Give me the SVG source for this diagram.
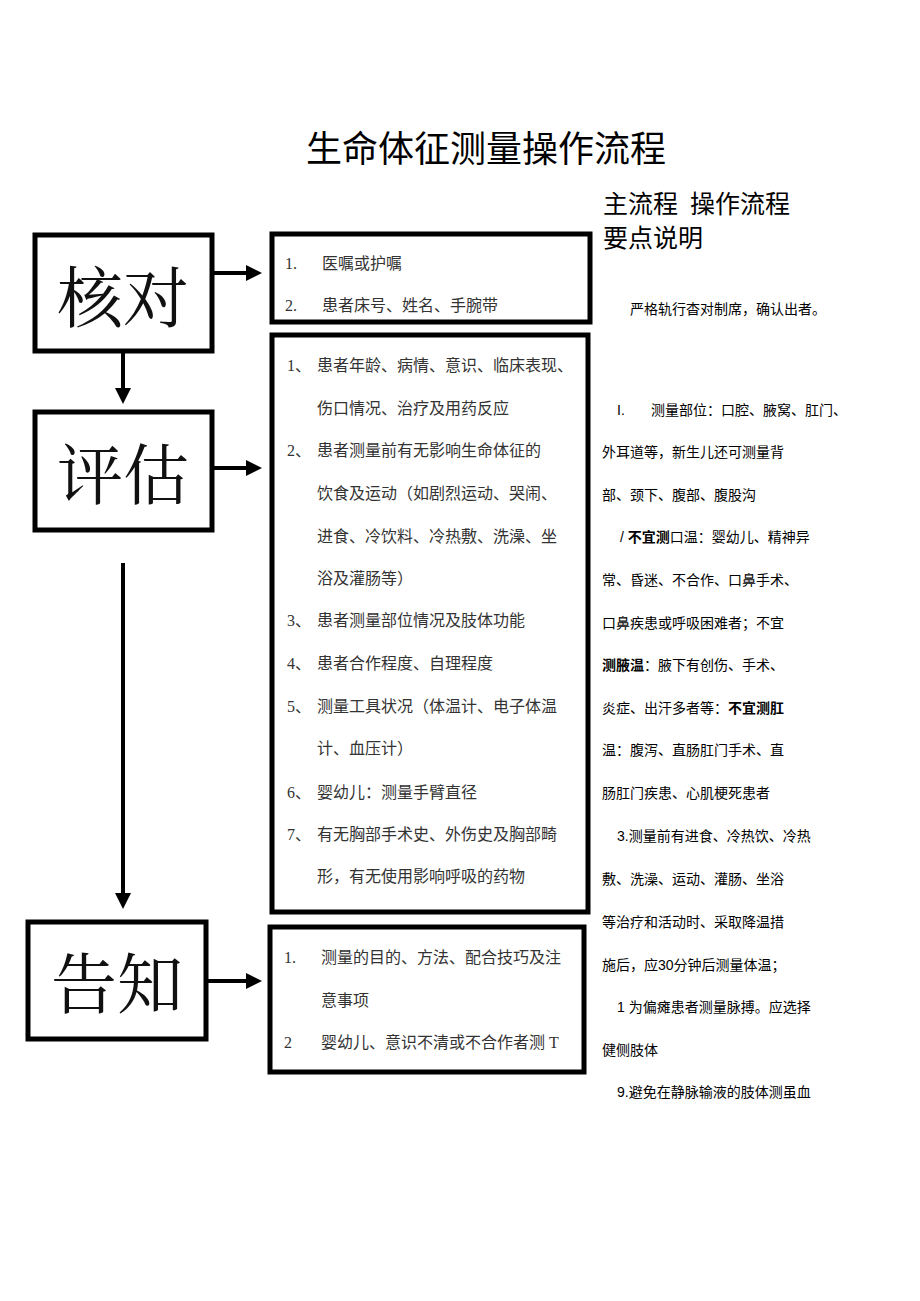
<svg xmlns="http://www.w3.org/2000/svg" width="920" height="1301" viewBox="0 0 920 1301">
<style>
.box{fill:#fff;stroke:#000;stroke-width:5}
.big{font-family:"Noto Serif CJK SC","Noto Sans CJK SC",serif;font-size:66px;text-anchor:middle;fill:#111}
.t{font-family:"Liberation Serif","Noto Sans CJK SC",serif;font-size:16px;fill:#333}
.r{font-family:"Liberation Sans","Noto Sans CJK SC",sans-serif;font-size:14px;fill:#000}
.b{font-weight:bold}
.ln{stroke:#000;stroke-width:4;fill:none}
</style>
<defs><marker id="ah" markerWidth="4" markerHeight="4" refX="3" refY="2" orient="auto"><path d="M0,0L4,2L0,4z" fill="#000"/></marker></defs>
<rect width="920" height="1301" fill="#fff"/>
<text x="486" y="162" font-family="Noto Sans CJK SC,sans-serif" font-size="36" text-anchor="middle">生命体征测量操作流程</text>
<text x="603" y="213" font-family="Noto Sans CJK SC,sans-serif" font-size="25">主流程<tspan dx="12">操作流程</tspan></text>
<text x="603" y="247" font-family="Noto Sans CJK SC,sans-serif" font-size="25">要点说明</text>
<g id="n1"><rect class="box" x="35" y="235" width="177" height="116"/><text class="big" x="123" y="322">核对</text></g>
<g id="n2"><rect class="box" x="35" y="412" width="177" height="118"/><text class="big" x="123" y="499">评估</text></g>
<g id="n3"><rect class="box" x="28" y="922" width="178" height="117"/><text class="big" x="117" y="1008">告知</text></g>
<g id="d1"><rect class="box" x="272" y="234" width="318" height="88"/>
<text class="t" x="285" y="269">1.</text><text class="t" x="322" y="269">医嘱或护嘱</text>
<text class="t" x="285" y="311">2.</text><text class="t" x="322" y="311">患者床号、姓名、手腕带</text></g>
<g id="d2"><rect class="box" x="272" y="335" width="316" height="577"/>
<text class="t" x="287" y="371">1、</text><text class="t" x="317" y="371">患者年龄、病情、意识、临床表现、</text>
<text class="t" x="317" y="414">伤口情况、治疗及用药反应</text>
<text class="t" x="287" y="456">2、</text><text class="t" x="317" y="456">患者测量前有无影响生命体征的</text>
<text class="t" x="317" y="499">饮食及运动（如剧烈运动、哭闹、</text>
<text class="t" x="317" y="542">进食、冷饮料、冷热敷、洗澡、坐</text>
<text class="t" x="317" y="584">浴及灌肠等）</text>
<text class="t" x="287" y="626">3、</text><text class="t" x="317" y="626">患者测量部位情况及肢体功能</text>
<text class="t" x="287" y="669">4、</text><text class="t" x="317" y="669">患者合作程度、自理程度</text>
<text class="t" x="287" y="712">5、</text><text class="t" x="317" y="712">测量工具状况（体温计、电子体温</text>
<text class="t" x="317" y="754">计、血压计）</text>
<text class="t" x="287" y="798">6、</text><text class="t" x="317" y="798">婴幼儿：测量手臂直径</text>
<text class="t" x="287" y="840">7、</text><text class="t" x="317" y="840">有无胸部手术史、外伤史及胸部畸</text>
<text class="t" x="317" y="882">形，有无使用影响呼吸的药物</text></g>
<g id="d3"><rect class="box" x="270" y="927" width="314" height="145"/>
<text class="t" x="284" y="963">1.</text><text class="t" x="321" y="963">测量的目的、方法、配合技巧及注</text>
<text class="t" x="321" y="1006">意事项</text>
<text class="t" x="284" y="1048">2</text><text class="t" x="321" y="1048">婴幼儿、意识不清或不合作者测 T</text></g>
<g id="notes">
<text class="r" x="630" y="314">严格轨行杳对制席，确认出者。</text>
<text class="r" x="617" y="415">I.</text><text class="r" x="651" y="415">测量部位：口腔、腋窝、肛门、</text>
<text class="r" x="602" y="457">外耳道等，新生儿还可测量背</text>
<text class="r" x="602" y="500">部、颈下、腹部、腹股沟</text>
<text class="r" x="620" y="542">/ <tspan class="b">不宜测</tspan>口温：婴幼儿、精神异</text>
<text class="r" x="602" y="585">常、昏迷、不合作、口鼻手术、</text>
<text class="r" x="602" y="628">口鼻疾患或呼吸困难者；不宜</text>
<text class="r" x="602" y="670"><tspan class="b">测腋温</tspan>：腋下有创伤、手术、</text>
<text class="r" x="602" y="713">炎症、出汗多者等：<tspan class="b">不宜测肛</tspan></text>
<text class="r" x="602" y="755">温：腹泻、直肠肛门手术、直</text>
<text class="r" x="602" y="798">肠肛门疾患、心肌梗死患者</text>
<text class="r" x="617" y="841">3.测量前有进食、冷热饮、冷热</text>
<text class="r" x="602" y="884">敷、洗澡、运动、灌肠、坐浴</text>
<text class="r" x="602" y="927">等治疗和活动时、采取降温措</text>
<text class="r" x="602" y="970">施后，应30分钟后测量体温；</text>
<text class="r" x="617" y="1012">1 为偏瘫患者测量脉搏。应选择</text>
<text class="r" x="602" y="1055">健侧肢体</text>
<text class="r" x="617" y="1097">9.避免在静脉输液的肢体测虽血</text>
</g>
<g id="connectors">
<line class="ln" x1="212" y1="273" x2="258" y2="273" marker-end="url(#ah)"/>
<line class="ln" x1="212" y1="468" x2="258" y2="468" marker-end="url(#ah)"/>
<line class="ln" x1="206" y1="981" x2="258" y2="981" marker-end="url(#ah)"/>
<line class="ln" x1="123" y1="351" x2="123" y2="400" marker-end="url(#ah)"/>
<line class="ln" x1="123" y1="563" x2="123" y2="905" marker-end="url(#ah)"/>
</g>
</svg>
